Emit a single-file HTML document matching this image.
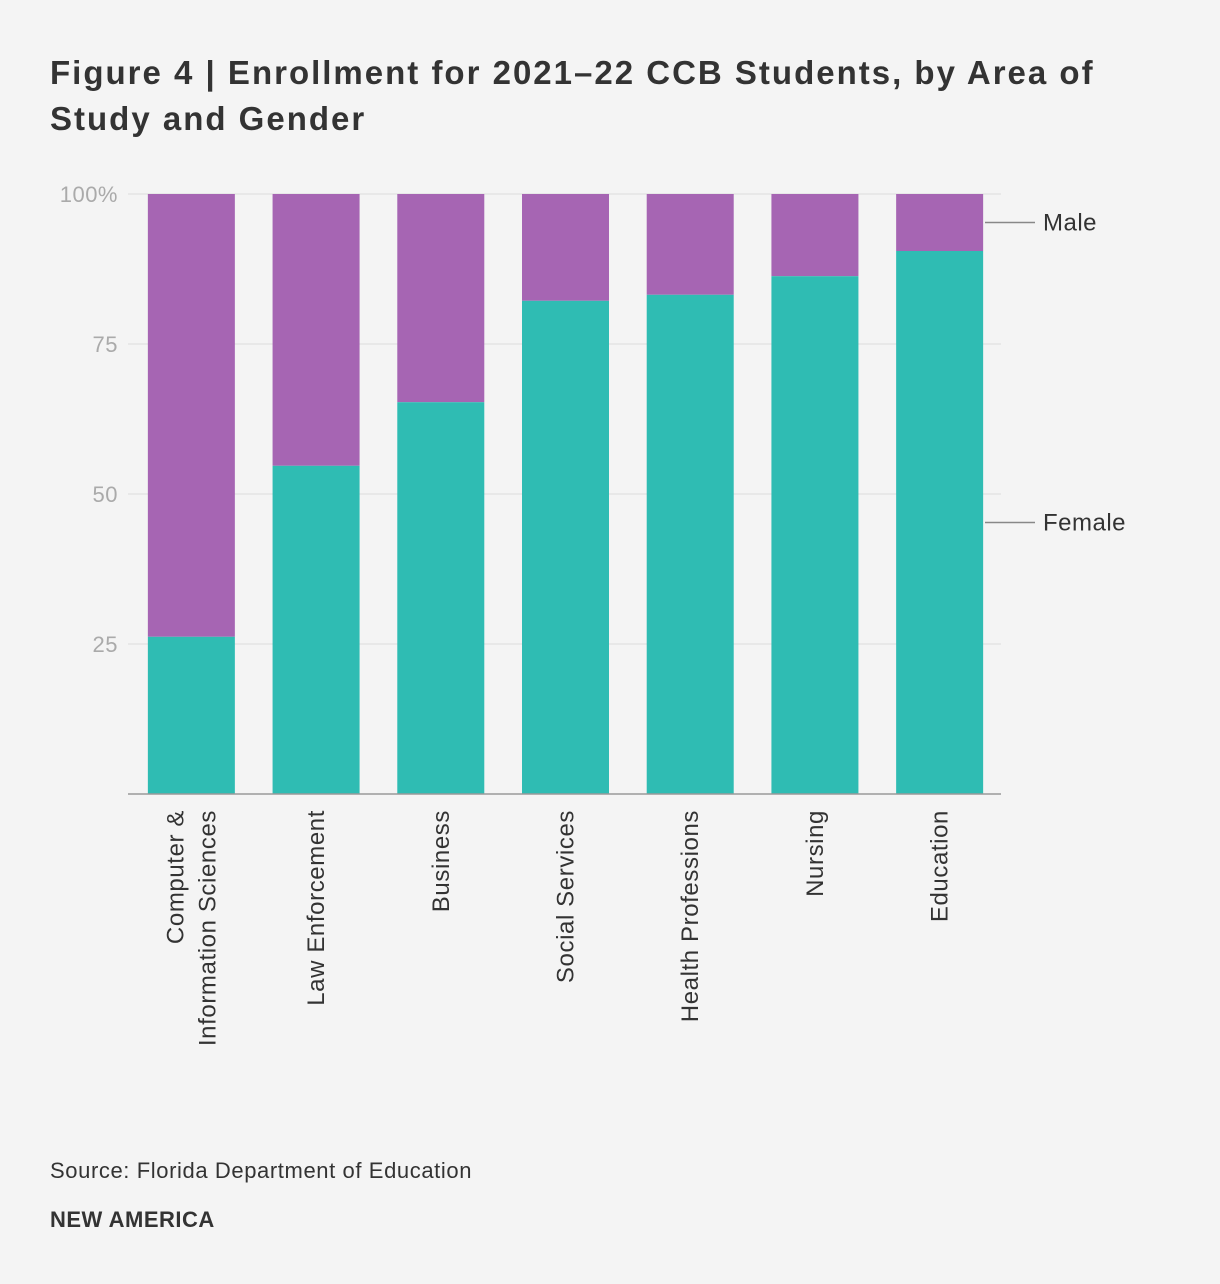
<!DOCTYPE html>
<html><head><meta charset="utf-8"><style>
body{margin:0;background:#f4f4f4;font-family:"Liberation Sans",sans-serif;}
#wrap{position:relative;width:1220px;height:1284px;background:#f4f4f4;}
h1{position:absolute;left:50px;top:50px;margin:0;font-size:33px;line-height:46px;font-weight:bold;letter-spacing:2px;color:#333;width:1070px;}
.src{position:absolute;left:50px;top:1158px;font-size:22px;letter-spacing:0.6px;color:#333;}
.brand{position:absolute;left:50px;top:1207px;font-size:22px;letter-spacing:0.5px;font-weight:bold;color:#333;}
</style></head><body>
<div id="wrap">
<h1>Figure 4 | Enrollment for 2021–22 CCB Students, by Area of Study and Gender</h1>
<svg id="chart" width="1220" height="1284" style="position:absolute;left:0;top:0"></svg>
<div class="src">Source: Florida Department of Education</div>
<div class="brand">NEW AMERICA</div>
</div>
<script>
const categories=[["Computer &","Information Sciences"],["Law Enforcement"],["Business"],["Social Services"],["Health Professions"],["Nursing"],["Education"]];
const female=[26.2,54.7,65.3,82.2,83.2,86.3,90.5];
const yTicks=[25,50,75,100];
const tickLabels=["25","50","75","100%"];
const svg=document.getElementById('chart');
const NS="http://www.w3.org/2000/svg";
const x0=128,x1=1001,y0=794,y1=194;
const band=(x1-x0)/categories.length,bw=87;
const y=v=>y0-(v/100)*(y0-y1);
const bx=i=>x0+band*i+(band-bw)/2+1;
function mk(t,a){const e=document.createElementNS(NS,t);for(const k in a)e.setAttribute(k,a[k]);svg.appendChild(e);return e;}
yTicks.forEach((t,i)=>{
 const g=mk('line',{x1:x0,x2:x1,y1:y(t),y2:y(t),stroke:'#dcdcdc','stroke-width':1});
 
 
 const tx=mk('text',{x:118,y:y(t)+8,'text-anchor':'end','font-size':22,'letter-spacing':0.5,fill:'#aaa','font-family':'Liberation Sans, sans-serif'});
 tx.textContent=tickLabels[i];
 
 
});
female.forEach((f,i)=>{
 const m=mk('rect',{x:bx(i),y:y(100),width:bw,height:y(f)-y(100),fill:'#a665b3'});
 
 
 const r=mk('rect',{x:bx(i),y:y(f),width:bw,height:y0-y(f),fill:'#2fbcb3'});
 
 
 const lines=categories[i];
 const cx=bx(i)+bw/2;
 lines.forEach((l,j)=>{
  const off=(j-(lines.length-1)/2)*32+8;
  const t=mk('text',{x:0,y:0,'text-anchor':'end','font-size':24,'letter-spacing':0.6,fill:'#333','font-family':'Liberation Sans, sans-serif',transform:`translate(${cx+off},810) rotate(-90)`});
  t.textContent=l;
  
  
 });
});
const ax=mk('line',{x1:x0,x2:x1,y1:y0,y2:y0,stroke:'#999','stroke-width':1.5});


const last=female.length-1;
[["Male",(100+female[last])/2],["Female",female[last]/2]].forEach(([n,v])=>{
 const l=mk('line',{x1:985,x2:1035,y1:y(v),y2:y(v),stroke:'#888','stroke-width':1.5});
 
 
 const t=mk('text',{x:1043,y:y(v)+8,'font-size':24,'letter-spacing':0.5,fill:'#333','font-family':'Liberation Sans, sans-serif'});
 t.textContent=n;
 
 
});
</script>
</body></html>
